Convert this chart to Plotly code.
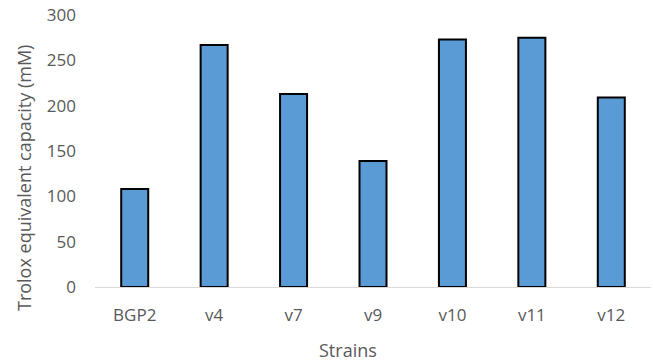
import plotly.graph_objects as go

# Trolox equivalent antioxidant capacity per strain
strains = ["BGP2", "v4", "v7", "v9", "v10", "v11", "v12"]
capacity_mM = [108, 267, 213, 139, 273, 275, 209]
y_ticks = [0, 50, 100, 150, 200, 250, 300]

text_color = "#595959"
font_family = "Open Sans, Noto Sans, sans-serif"

fig = go.Figure(
    go.Bar(
        x=strains,
        y=capacity_mM,
        marker=dict(color="#5b9bd5", line=dict(color="#000000", width=2)),
    )
)

fig.update_layout(
    width=653,
    height=363,
    margin=dict(l=95, r=2, t=15, b=76),
    paper_bgcolor="white",
    plot_bgcolor="white",
    bargap=0.66,
    showlegend=False,
    font=dict(family=font_family, size=17, color=text_color),
    xaxis=dict(
        showline=True,
        linecolor="#d9d9d9",
        linewidth=1,
        showgrid=False,
        ticks="",
        ticklabelstandoff=13,
        tickfont=dict(size=17, color=text_color),
    ),
    yaxis=dict(
        range=[0, 300],
        tickvals=y_ticks,
        showgrid=False,
        zeroline=False,
        showline=False,
        ticks="",
        ticklabelstandoff=18,
        tickfont=dict(size=17, color=text_color),
    ),
    annotations=[
        dict(
            text="Strains",
            xref="paper",
            yref="paper",
            x=0.455,
            y=-0.23,
            yanchor="middle",
            showarrow=False,
            font=dict(size=18, color=text_color),
        ),
        dict(
            text="Trolox equivalent capacity (mM)",
            xref="paper",
            yref="paper",
            x=-0.128,
            y=0.40,
            xanchor="center",
            yanchor="middle",
            textangle=-90,
            showarrow=False,
            font=dict(size=18, color=text_color),
        ),
    ],
)

fig.write_html("out.html")
